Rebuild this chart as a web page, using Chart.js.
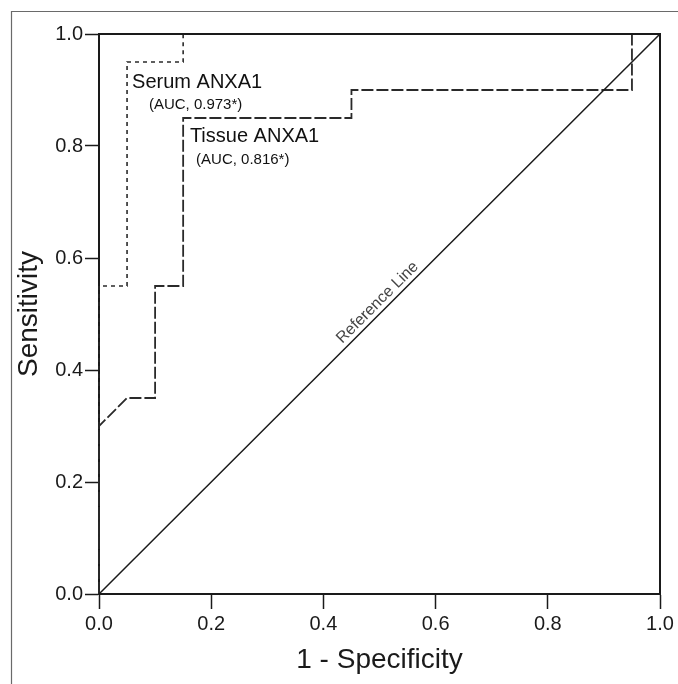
<!DOCTYPE html>
<html>
<head>
<meta charset="utf-8">
<script src="https://cdn.jsdelivr.net/npm/chart.js@4.4.1/dist/chart.umd.min.js"></script>
<style>
  html, body { margin: 0; padding: 0; background: #fff; }
</style>
</head>
<body>
<canvas id="roc" width="678" height="684"></canvas>
<script>
// ROC points (1 - specificity, sensitivity)
const serumFpr  = [0, 0, 0.05, 0.05, 0.15, 0.15, 1];
const serumTpr  = [0, 0.55, 0.55, 0.95, 0.95, 1, 1];
const tissueFpr = [0, 0, 0.05, 0.10, 0.10, 0.15, 0.15, 0.45, 0.45, 0.95, 0.95, 1];
const tissueTpr = [0, 0.30, 0.35, 0.35, 0.55, 0.55, 0.85, 0.85, 0.90, 0.90, 1, 1];
const refFpr = [0, 1];
const refTpr = [0, 1];
const tickValues = [0, 0.2, 0.4, 0.6, 0.8, 1.0];

const curveNames = ['Serum ANXA1', 'Tissue ANXA1'];
const aucLabels = ['(AUC, 0.973*)', '(AUC, 0.816*)'];

const FONT = '"Liberation Sans", Arial, sans-serif';
const INK = '#1a1a1a';

function toPoints(xs, ys) {
  return xs.map((x, i) => ({ x: x, y: ys[i] }));
}

// where the curve names sit, in axis units
const notes = [
  { text: curveNames[0], x: 0.059, y: 0.904, size: 20 },
  { text: aucLabels[0],  x: 0.089, y: 0.866, size: 15 },
  { text: curveNames[1], x: 0.162, y: 0.808, size: 20 },
  { text: aucLabels[1],  x: 0.173, y: 0.768, size: 15 }
];

const outerFrame = {
  id: 'outerFrame',
  beforeDraw(chart) {
    const ctx = chart.ctx;
    ctx.save();
    ctx.strokeStyle = '#6a6a6a';
    ctx.lineWidth = 1.2;
    ctx.beginPath();
    ctx.moveTo(11.5, chart.height);
    ctx.lineTo(11.5, 11.5);
    ctx.lineTo(chart.width, 11.5);
    ctx.stroke();
    ctx.restore();
  }
};

const plotBox = {
  id: 'plotBox',
  afterDatasetsDraw(chart) {
    const { ctx, chartArea: a, scales } = chart;
    ctx.save();
    ctx.strokeStyle = INK;
    ctx.lineWidth = 2;
    ctx.beginPath();
    ctx.moveTo(a.left, a.top);
    ctx.lineTo(a.right, a.top);
    ctx.lineTo(a.right, a.bottom);
    ctx.stroke();

    // curve labels
    ctx.fillStyle = '#111';
    ctx.textAlign = 'left';
    ctx.textBaseline = 'alphabetic';
    notes.forEach(n => {
      ctx.font = n.size + 'px ' + FONT;
      ctx.fillText(n.text, scales.x.getPixelForValue(n.x), scales.y.getPixelForValue(n.y));
    });

    // text along the diagonal
    const x0 = scales.x.getPixelForValue(0), y0 = scales.y.getPixelForValue(0);
    const x1 = scales.x.getPixelForValue(1), y1 = scales.y.getPixelForValue(1);
    const ang = Math.atan2(y1 - y0, x1 - x0);
    const px = scales.x.getPixelForValue(0.44), py = scales.y.getPixelForValue(0.44);
    ctx.translate(px, py);
    ctx.rotate(ang);
    ctx.font = '16px ' + FONT;
    ctx.fillStyle = '#444';
    ctx.fillText('Reference Line', 0, -5);
    ctx.restore();
  }
};

new Chart(document.getElementById('roc'), {
  type: 'scatter',
  data: {
    datasets: [
      {
        label: 'Reference Line',
        data: toPoints(refFpr, refTpr),
        showLine: true,
        borderColor: INK,
        borderWidth: 1.5,
        pointRadius: 0,
        clip: 4
      },
      {
        label: curveNames[0],
        data: toPoints(serumFpr, serumTpr),
        showLine: true,
        borderColor: '#2a2a2a',
        borderWidth: 1.6,
        borderDash: [4, 4],
        pointRadius: 0,
        clip: 4
      },
      {
        label: curveNames[1],
        data: toPoints(tissueFpr, tissueTpr),
        showLine: true,
        borderColor: '#2a2a2a',
        borderWidth: 1.8,
        borderDash: [12, 3],
        pointRadius: 0,
        clip: 4
      }
    ]
  },
  options: {
    responsive: false,
    animation: false,
    events: [],
    layout: { padding: { left: 0, right: 18, top: 34, bottom: 0 } },
    plugins: {
      legend: { display: false },
      tooltip: { enabled: false }
    },
    scales: {
      x: {
        type: 'linear',
        min: 0,
        max: 1,
        afterBuildTicks: s => { s.ticks = tickValues.map(v => ({ value: v })); },
        afterFit: s => { s.height = 90; },
        ticks: {
          callback: v => v.toFixed(1),
          font: { family: FONT, size: 20 },
          color: INK,
          padding: 3,
          maxRotation: 0
        },
        grid: { drawOnChartArea: false, tickLength: 15, tickColor: INK, tickWidth: 1.5 },
        border: { color: INK, width: 2 },
        title: {
          display: true,
          text: '1 - Specificity',
          font: { family: FONT, size: 28 },
          color: INK,
          padding: { top: 0, bottom: 7 }
        }
      },
      y: {
        type: 'linear',
        min: 0,
        max: 1,
        afterBuildTicks: s => { s.ticks = tickValues.map(v => ({ value: v })); },
        afterFit: s => { s.width = 99; },
        ticks: {
          callback: v => v.toFixed(1),
          font: { family: FONT, size: 20 },
          color: INK,
          padding: 2
        },
        grid: { drawOnChartArea: false, tickLength: 14, tickColor: INK, tickWidth: 1.5 },
        border: { color: INK, width: 2 },
        title: {
          display: true,
          text: 'Sensitivity',
          font: { family: FONT, size: 28 },
          color: INK,
          padding: { top: 12, bottom: 0 }
        }
      }
    }
  },
  plugins: [outerFrame, plotBox]
});
</script>
</body>
</html>
